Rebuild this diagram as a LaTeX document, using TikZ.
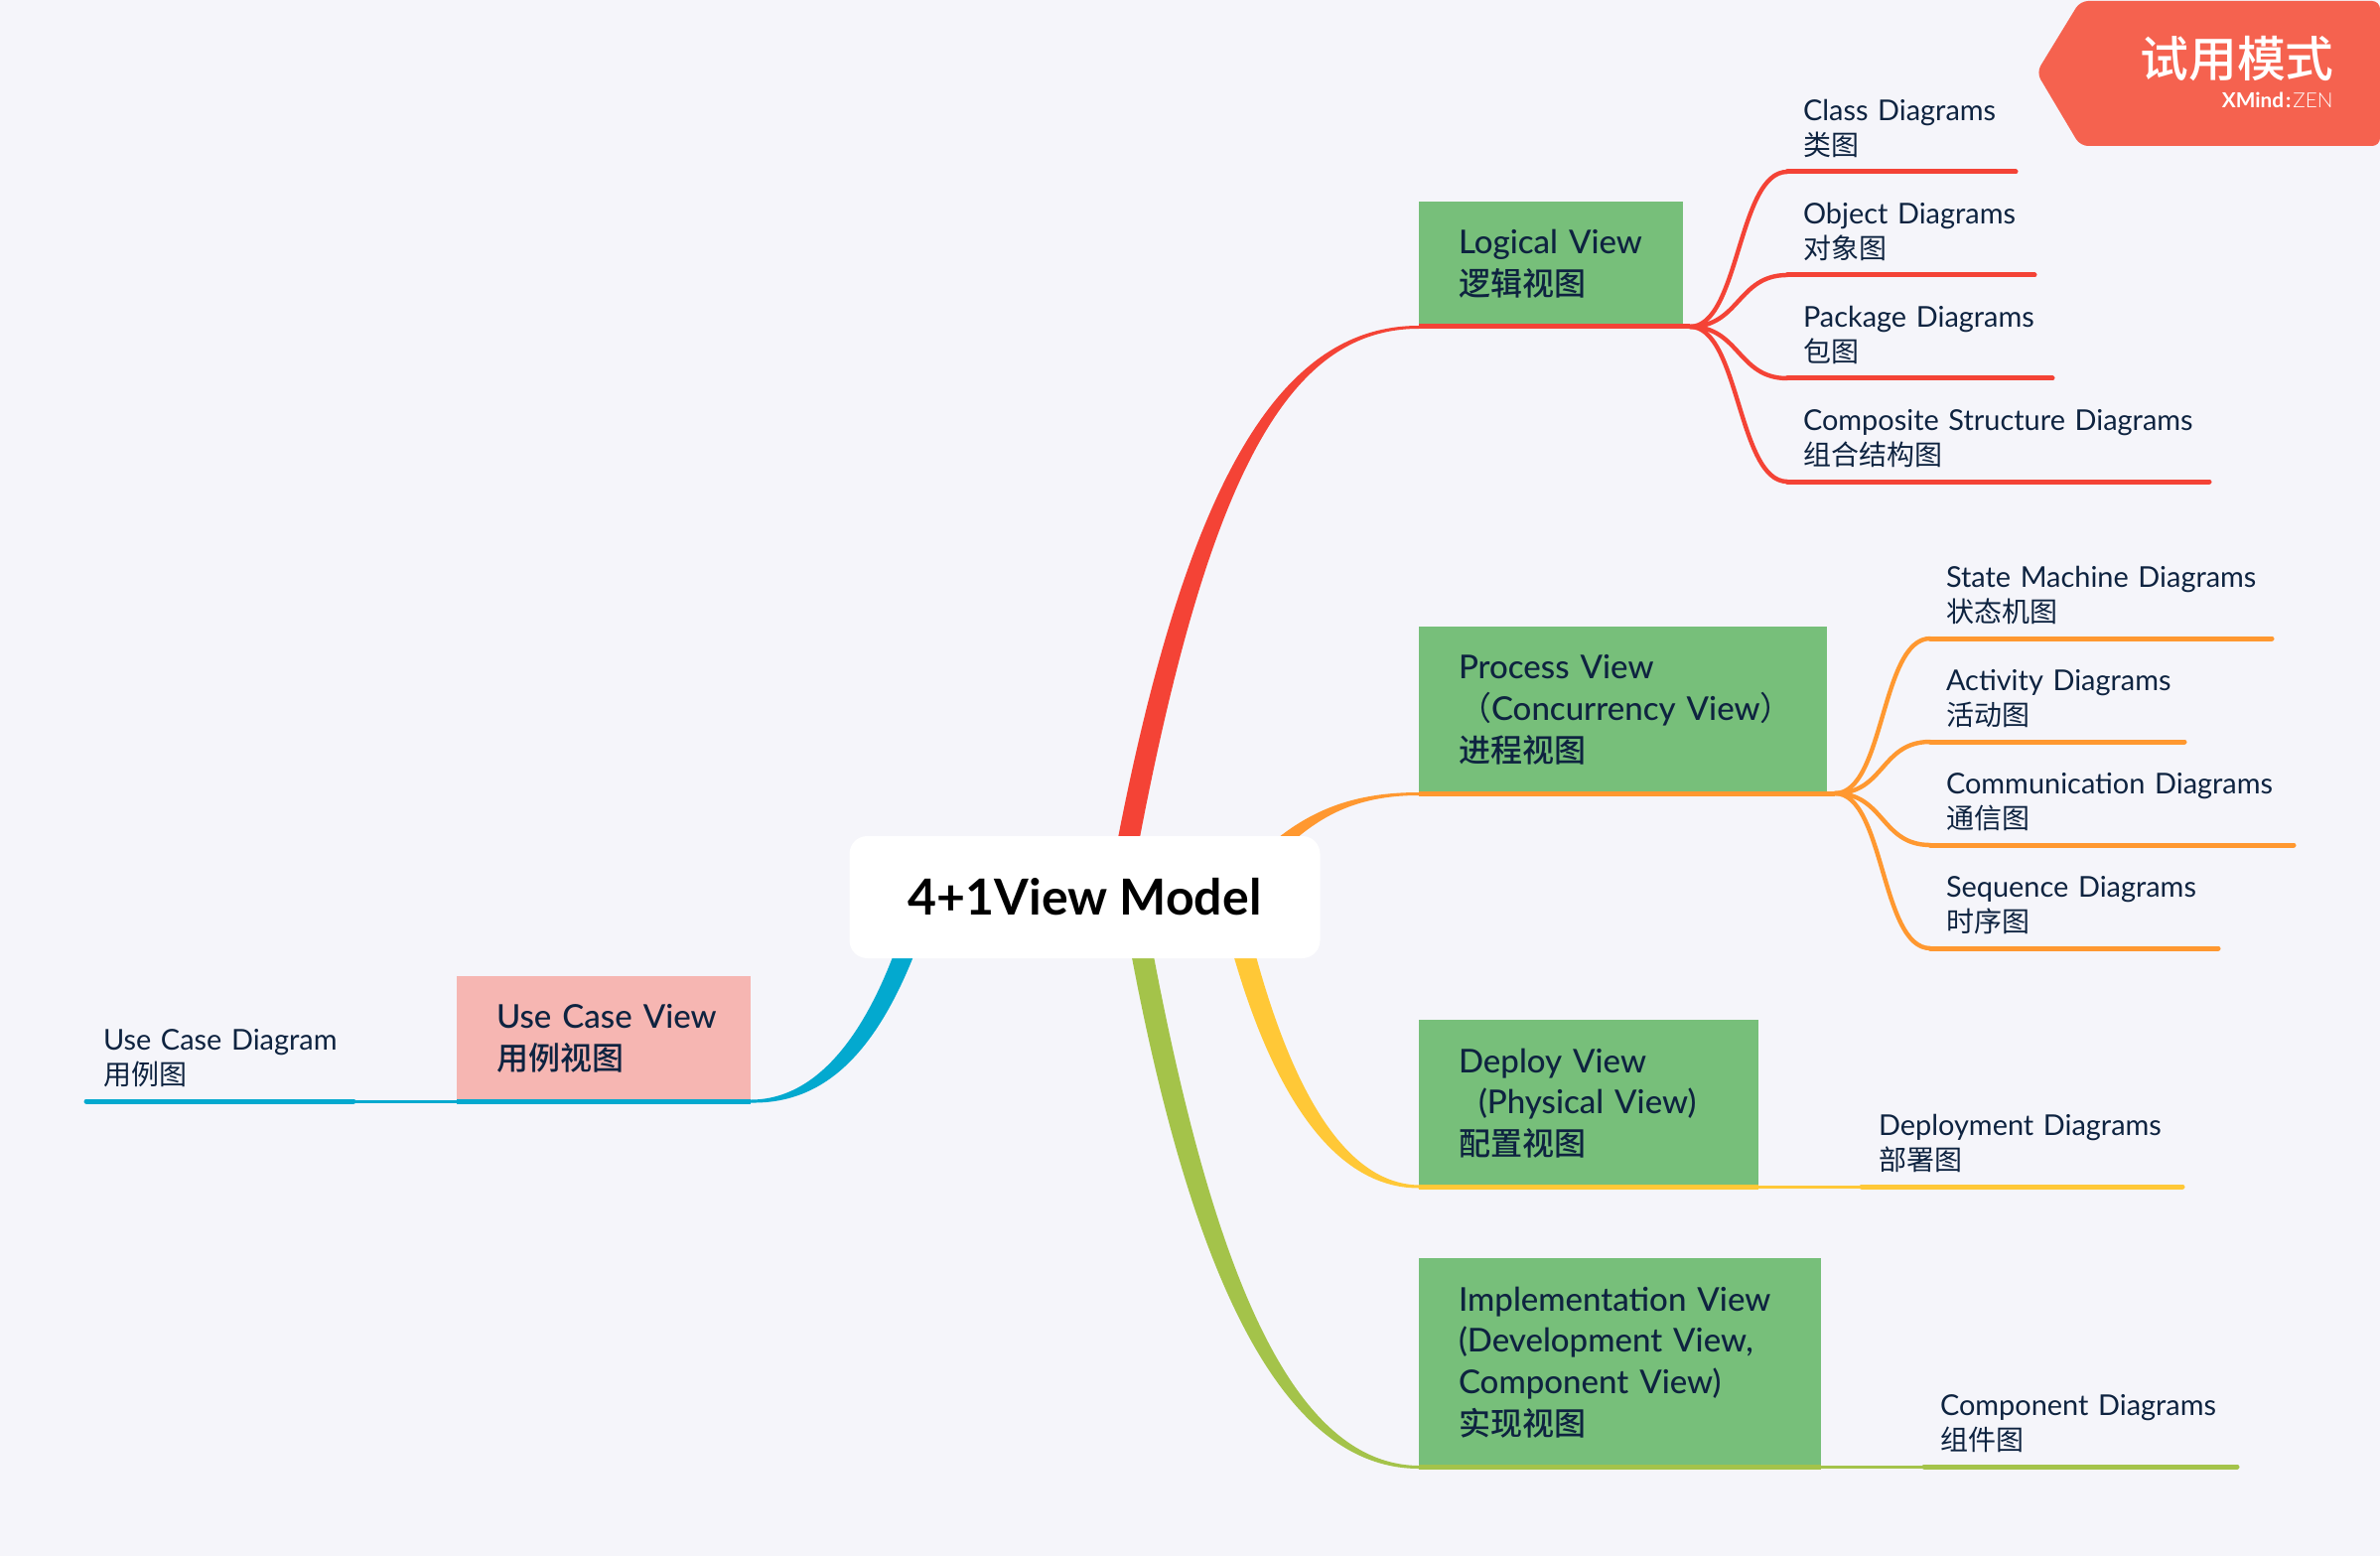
\documentclass[tikz,border=0pt]{standalone}
\usepackage{fontspec}
\setmainfont{Lato}
\newfontfamily\cjk{Noto Sans CJK SC}
\newfontfamily\cjkmed{Noto Sans CJK SC Medium}
\newfontfamily\latmed{Lato Medium}
\newfontfamily\latlight{Lato Light}
\definecolor{bgc}{HTML}{F5F5FA}
\definecolor{inkc}{HTML}{0E2340}
\definecolor{redc}{HTML}{F44336}
\definecolor{orac}{HTML}{FF9830}
\definecolor{yelc}{HTML}{FFC837}
\definecolor{grnc}{HTML}{A4C34A}
\definecolor{bluc}{HTML}{03A9CF}
\definecolor{boxg}{HTML}{77BF7A}
\definecolor{boxp}{HTML}{F6B6B2}
\definecolor{banc}{HTML}{F5624F}
\newcommand{\subt}[3]{\mbox{\hspace{#1}#2}\\\mbox{\hspace{#1}\fontsize{14}{17.5}\selectfont\cjk #3}}
\newcommand{\boxcjk}[1]{\mbox{\fontsize{16}{20.9}\selectfont\cjkmed #1}}
\tikzset{
  x=0.5pt,y=-0.5pt,
  viewbox/.style={anchor=north west,inner xsep=20pt,inner ysep=0pt,outer sep=0pt,align=left,text=inkc,
    font=\latmed\fontsize{16.5}{20.9}\selectfont},
  subtopic/.style={anchor=south west,inner xsep=0pt,inner ysep=7.1pt,outer sep=0pt,align=left,text=inkc,
    font=\fontsize{14.45}{17.5}\selectfont},
  fork/.style={line width=2.2pt,line cap=round},
  thick line/.style={line width=2.5pt,line cap=round},
  link/.style={line width=1.5pt},
}
\begin{document}
\begin{tikzpicture}
\useasboundingbox (0,0) rectangle (2397,1567);
\fill[bgc] (0,0) rectangle (2397,1567);

% tapered main branches
\fill[redc] (1115,903) .. controls (1190,480) and (1290,328) .. (1429,328) -- (1429,331) .. controls (1296,331) and (1212,480) .. (1137,903) -- cycle;
\fill[orac] (1228,903) .. controls (1288,832) and (1338,798) .. (1429,798) -- (1429,801) .. controls (1345,801) and (1304,838) .. (1250,903) -- cycle;
\fill[yelc] (1227,903) .. controls (1268,1080) and (1334,1196.5) .. (1429,1196.5) -- (1429,1193.5) .. controls (1348,1192) and (1290,1080) .. (1250,903) -- cycle;
\fill[grnc] (1129,903) .. controls (1188,1250) and (1279,1479) .. (1429,1479) -- (1429,1476) .. controls (1292,1475) and (1212,1250) .. (1151,903) -- cycle;
\fill[bluc] (919,903) .. controls (882,1035) and (826,1107.5) .. (756,1107.5) -- (756,1110.5) .. controls (838,1112) and (896,1050) .. (941,903) -- cycle;

% central topic
\node[fill=white,rounded corners=9pt,minimum width=237pt,minimum height=61.5pt,inner sep=0pt,outer sep=0pt,
      font=\fontsize{25}{28}\selectfont\bfseries,text=black] (root) at (1092.5,903.5) {4+1View Model};

% main topics
\node[viewbox,fill=boxg,text width=93pt,minimum height=63pt] (logical) at (1429,203)
  {\mbox{Logical View}\\\boxcjk{逻辑视图}};
\node[viewbox,fill=boxg,text width=165.5pt,minimum height=84pt] (process) at (1429,631)
  {\mbox{Process View}\\\mbox{{\cjk （}Concurrency View{\cjk ）}}\\\boxcjk{进程视图}};
\node[viewbox,fill=boxg,text width=131pt,minimum height=84pt] (deploy) at (1429,1027)
  {\mbox{Deploy View}\\\mbox{\hspace*{10pt}(Physical View)}\\\boxcjk{配置视图}};
\node[viewbox,fill=boxg,text width=162.5pt,minimum height=105pt] (impl) at (1429,1267)
  {\mbox{Implementation View}\\\mbox{(Development View,}\\\mbox{Component View)}\\\boxcjk{实现视图}};
\node[viewbox,fill=boxp,text width=108pt,minimum height=63pt] (usecase) at (460,983)
  {\mbox{Use Case View}\\\boxcjk{用例视图}};

% subtopics
\node[subtopic,text width=115pt] (classd) at (1800,173) {\subt{8pt}{Class Diagrams}{类图}};
\node[subtopic,text width=124.5pt] (objectd) at (1800,277) {\subt{8pt}{Object Diagrams}{对象图}};
\node[subtopic,text width=133.5pt] (packaged) at (1800,381) {\subt{8pt}{Package Diagrams}{包图}};
\node[subtopic,text width=212.5pt] (compositeD) at (1800,485) {\subt{8pt}{Composite Structure Diagrams}{组合结构图}};
\node[subtopic,text width=172pt] (stated) at (1944,643) {\subt{8pt}{State Machine Diagrams}{状态机图}};
\node[subtopic,text width=128pt] (activityd) at (1944,747) {\subt{8pt}{Activity Diagrams}{活动图}};
\node[subtopic,text width=183pt] (commd) at (1944,851) {\subt{8pt}{Communication Diagrams}{通信图}};
\node[subtopic,text width=145pt] (seqd) at (1944,955) {\subt{8pt}{Sequence Diagrams}{时序图}};
\node[subtopic,text width=161.5pt] (deployd) at (1875,1195) {\subt{8.5pt}{Deployment Diagrams}{部署图}};
\node[subtopic,text width=157.5pt] (compd) at (1938,1477) {\subt{8pt}{Component Diagrams}{组件图}};
\node[subtopic,text width=134.5pt] (used) at (87,1109) {\subt{8.5pt}{Use Case Diagram}{用例图}};

% branch underlines and fork points
\coordinate (forkL) at (1702,329);
\coordinate (forkP) at (1848,799);
\draw[redc,line width=2.5pt] (logical.south west) -- (forkL);
\draw[orac,line width=2.5pt] (process.south west) -- (forkP);
\draw[yelc,thick line,line cap=butt] (deploy.south west) -- (deploy.south east);
\draw[grnc,thick line,line cap=butt] (impl.south west) -- (impl.south east);
\draw[bluc,thick line,line cap=butt] (usecase.south west) -- (usecase.south east);

% forks
\foreach \t in {classd,objectd,packaged,compositeD}{
  \draw[redc,fork] (forkL) .. controls +(50,0) and +(-50,0) .. (\t.south west);
  \draw[redc,thick line] (\t.south west) -- (\t.south east);}
\foreach \t in {stated,activityd,commd,seqd}{
  \draw[orac,fork] (forkP) .. controls +(50,0) and +(-50,0) .. (\t.south west);
  \draw[orac,thick line] (\t.south west) -- (\t.south east);}

% single children
\draw[yelc,link] (deploy.south east) -- (deployd.south west);
\draw[yelc,thick line] (deployd.south west) -- (deployd.south east);
\draw[grnc,link] (impl.south east) -- (compd.south west);
\draw[grnc,thick line] (compd.south west) -- (compd.south east);
\draw[bluc,link] (usecase.south west) -- (used.south east);
\draw[bluc,thick line] (used.south east) -- (used.south west);

% trial banner
\fill[banc,rounded corners=4pt] (2397,1) -- (2095,1) -- (2051,73) -- (2095,147) -- (2397,147) -- cycle;
\node[anchor=base east,inner sep=0pt,text=white,font=\cjkmed\fontsize{24.4}{28}\selectfont] (bantitle) at (2351,78) {试用模式};
\node[anchor=base east,inner sep=0pt,text=white,font=\fontsize{10.4}{12}\selectfont] (bansub) at (2350,109) {\textbf{XMind}\kern1pt\textbf{:}\kern1pt{\latlight ZEN}};
\end{tikzpicture}
\end{document}
